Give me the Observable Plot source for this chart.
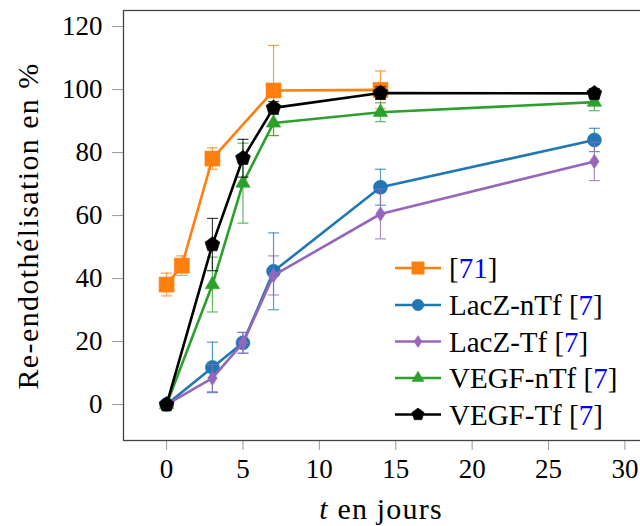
<!DOCTYPE html>
<html>
<head>
<meta charset="utf-8">
<script src="https://cdn.jsdelivr.net/npm/d3@7"></script>
<script src="https://cdn.jsdelivr.net/npm/@observablehq/plot@0.6"></script>
<style>
  html, body { margin: 0; padding: 0; background: white; }
  #wrap { position: relative; width: 640px; height: 526px; overflow: hidden; }
  #wrap svg { position: absolute; left: 0; top: 0; max-width: none !important; height: auto; }
</style>
</head>
<body>
<div id="wrap"></div>
<script>
// ---- data ----
const days71 = [0, 1, 3, 7, 14];
const ref71 = [38.1, 44.1, 78.1, 99.7, 99.9];
const ref71Err = [3.6, 3.1, 3.4, 14.3, 6.0];

const days7 = [0, 3, 5, 7, 14, 28];
const lacZnTf = [0, 11.8, 19.6, 42.3, 69.0, 84.0];
const lacZnTfErr = [0, 8.0, 3.3, 12.2, 5.7, 3.7];
const lacZTf = [0, 8.4, 19.6, 41.0, 60.5, 77.2];
const lacZTfErr = [0, 4.3, 3.3, 6.2, 7.9, 6.1];
const vegfnTf = [0, 38.1, 70.3, 89.4, 92.8, 96.0];
const vegfnTfErr = [0, 8.7, 12.7, 4.0, 3.0, 2.7];
const vegfTf = [0, 50.8, 78.2, 94.2, 98.9, 98.8];
const vegfTfErr = [0, 8.3, 6.0, 2.0, 2.0, 1.5];

const seriesLabels = ["", "LacZ-nTf ", "LacZ-Tf ", "VEGF-nTf ", "VEGF-Tf "];
const seriesRefs = ["71", "7", "7", "7", "7"];
const seriesColors = ["#ff7f0e", "#1f77b4", "#9467bd", "#2ca02c", "#000000"];

const xTicks = [0, 5, 10, 15, 20, 25, 30];
const yTicks = [0, 20, 40, 60, 80, 100, 120];

const FONT = "'Liberation Serif', 'DejaVu Serif', 'Times New Roman', Times, serif";

// ---- marker symbols ----
const rad = s => Math.sqrt(s / Math.PI);
const symSquare = { draw(c, s) { const r = rad(s); c.rect(-r, -r, 2 * r, 2 * r); } };
const symCircle = { draw(c, s) { const r = rad(s); c.moveTo(r, 0); c.arc(0, 0, r, 0, 2 * Math.PI); c.closePath(); } };
const symDiamond = { draw(c, s) { const r = rad(s); c.moveTo(0, -r); c.lineTo(0.66 * r, 0); c.lineTo(0, r); c.lineTo(-0.66 * r, 0); c.closePath(); } };
const symTriangle = { draw(c, s) { const r = rad(s); c.moveTo(0, -r); c.lineTo(r * 0.866, r * 0.5); c.lineTo(-r * 0.866, r * 0.5); c.closePath(); } };
const symPentagon = { draw(c, s) { const r = rad(s); for (let k = 0; k < 5; k++) { const a = -Math.PI / 2 + k * 2 * Math.PI / 5; const x = r * Math.cos(a), y = r * Math.sin(a); if (k === 0) c.moveTo(x, y); else c.lineTo(x, y); } c.closePath(); } };
const symCap = { draw(c, s) { const r = rad(s); c.moveTo(-r, 0); c.lineTo(r, 0); } };

const seriesSymbols = [symSquare, symCircle, symDiamond, symTriangle, symPentagon];
const seriesRadius = [7.5, 7, 7.2, 8.3, 7.8];

function rows(ts, vs, es) { return ts.map((t, i) => ({ t, v: vs[i], e: es[i] })); }
const tables = [
  rows(days71, ref71, ref71Err),
  rows(days7, lacZnTf, lacZnTfErr),
  rows(days7, lacZTf, lacZTfErr),
  rows(days7, vegfnTf, vegfnTfErr),
  rows(days7, vegfTf, vegfTfErr)
];

const marks = [
  Plot.axisX({ ticks: xTicks, tickSize: 10, tickPadding: 8, stroke: "#999", label: null }),
  Plot.axisY({ ticks: yTicks, tickSize: 11, tickPadding: 10, stroke: "#999", label: null }),
  Plot.frame({ stroke: "#444", strokeWidth: 1.3 })
];
tables.forEach((tb, i) => {
  const col = seriesColors[i];
  const withErr = tb.filter(d => d.e > 0);
  marks.push(
    Plot.ruleX(withErr, { x: "t", y1: d => d.v - d.e, y2: d => d.v + d.e, stroke: col, strokeWidth: 1.2, strokeOpacity: 0.75 }),
    Plot.dot(withErr, { x: "t", y: d => d.v + d.e, symbol: symCap, r: 5.5, fill: "none", stroke: col, strokeWidth: 1.2, strokeOpacity: 0.75 }),
    Plot.dot(withErr, { x: "t", y: d => d.v - d.e, symbol: symCap, r: 5.5, fill: "none", stroke: col, strokeWidth: 1.2, strokeOpacity: 0.75 }),
    Plot.line(tb, { x: "t", y: "v", stroke: col, strokeWidth: 2.6 }),
    Plot.dot(tb, { x: "t", y: "v", symbol: seriesSymbols[i], r: seriesRadius[i], fill: col, stroke: col, strokeWidth: 0.6 })
  );
});

const chart = Plot.plot({
  width: 642,
  height: 526,
  marginLeft: 123,
  marginRight: 0,
  marginTop: 10,
  marginBottom: 86,
  x: { domain: [-2.82, 31.15] },
  y: { domain: [-11.4, 125.1] },
  style: { fontFamily: FONT, fontSize: "27px", color: "black", background: "white", maxWidth: "none" },
  marks
});
const wrap = document.getElementById("wrap");
wrap.appendChild(chart);

// ---- overlay: legend and axis titles ----
const ov = d3.create("svg").attr("width", 640).attr("height", 526)
  .attr("font-family", FONT).attr("font-size", 29);

ov.append("text")
  .attr("transform", "translate(27,226) rotate(-90)")
  .attr("text-anchor", "middle").attr("dominant-baseline", "central")
  .attr("font-size", 30).attr("letter-spacing", 1.4)
  .text("Re-endothélisation en %");

const xt = ov.append("text").attr("x", 381).attr("y", 508)
  .attr("text-anchor", "middle").attr("dominant-baseline", "central")
  .attr("font-size", 30).attr("letter-spacing", 1.2);
xt.append("tspan").attr("font-style", "italic").text("t");
xt.append("tspan").text(" en jours");

const lg = ov.append("g");
lg.append("rect").attr("x", 386).attr("y", 244).attr("width", 254).attr("height", 195).attr("fill", "white");
const rowY = [268, 305, 341.5, 378, 414.5];
seriesLabels.forEach((lab, i) => {
  const y = rowY[i];
  const col = seriesColors[i];
  lg.append("line").attr("x1", 395).attr("x2", 441).attr("y1", y).attr("y2", y)
    .attr("stroke", col).attr("stroke-width", 2.6);
  const r = seriesRadius[i] * 0.82;
  lg.append("path").attr("transform", `translate(418,${y})`)
    .attr("d", d3.symbol(seriesSymbols[i], Math.PI * r * r)())
    .attr("fill", col).attr("stroke", col).attr("stroke-width", 0.6);
  const t = lg.append("text").attr("x", 449).attr("y", y).attr("dominant-baseline", "central");
  t.append("tspan").text(lab + "[");
  t.append("tspan").attr("fill", "#0000ff").text(seriesRefs[i]);
  t.append("tspan").text("]");
});
wrap.appendChild(ov.node());
</script>
</body>
</html>
